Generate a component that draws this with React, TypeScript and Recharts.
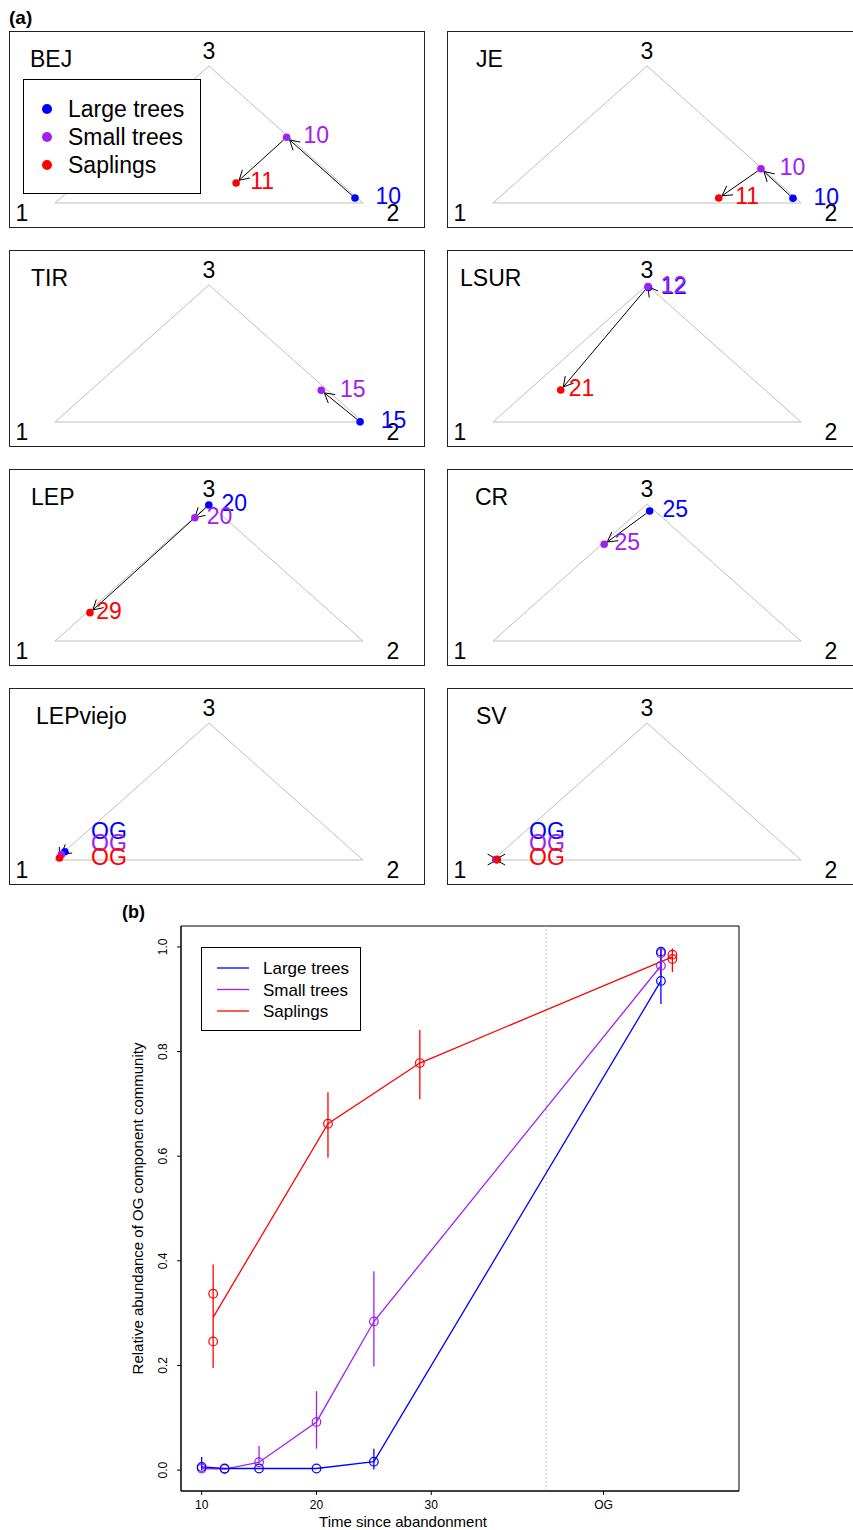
import React from "react";
import {
  ScatterChart,
  Scatter,
  XAxis,
  YAxis,
  ReferenceLine,
  ReferenceDot,
  ReferenceArea,
  ErrorBar,
  Legend,
  Label,
} from "recharts";

const FONT = '"Liberation Sans", Arial, Helvetica, sans-serif';

const layerNames = ["Large trees", "Small trees", "Saplings"];
const layerColors = ["#0000FF", "#A020F0", "#FF0000"];

// ---------- (a) ternary panels ----------
// composition of each layer: [share of type 1, share of type 2, share of type 3]
const siteNames = ["BEJ", "JE", "TIR", "LSUR", "LEP", "CR", "LEPviejo", "SV"];

const largeComp = [
  [0.008, 0.956, 0.036],
  [0.009, 0.957, 0.034],
  [0.009, 0.99, 0.001],
  [0.004, 0.014, 0.982],
  [0.004, 0.003, 0.993],
  [0.017, 0.034, 0.949],
  [0.938, 0.002, 0.06],
  [0.985, 0.012, 0.003],
];
const smallComp = [
  [0.008, 0.512, 0.48],
  [0.005, 0.745, 0.25],
  [0.02, 0.749, 0.231],
  [0.003, 0.009, 0.988],
  [0.096, 0.004, 0.9],
  [0.286, 0.008, 0.706],
  [0.96, 0.001, 0.039],
  [0.99, 0.007, 0.003],
];
const saplingComp = [
  [0.339, 0.515, 0.146],
  [0.249, 0.715, 0.036],
  null,
  [0.663, 0.103, 0.234],
  [0.783, 0.01, 0.207],
  null,
  [0.978, 0.007, 0.015],
  [0.985, 0.012, 0.003],
];

const largeAge = ["10", "10", "15", "12", "20", "25", "OG", "OG"];
const smallAge = ["10", "10", "15", "12", "20", "25", "OG", "OG"];
const saplingAge = ["11", "11", "", "21", "29", "", "OG", "OG"];

const layerComps = [largeComp, smallComp, saplingComp];
const layerAges = [largeAge, smallAge, saplingAge];

// ---------- (b) relative abundance over time ----------
const largeSiteX = [10, 12, 15, 20, 25, 50, 50];
const largeSiteY = [0.006, 0.003, 0.003, 0.003, 0.016, 0.991, 0.935];
const smallSiteX = [10, 12, 15, 20, 25, 50, 50];
const smallSiteY = [0.003, 0.002, 0.015, 0.092, 0.284, 0.988, 0.964];
const saplingSiteX = [11, 11, 21, 29, 51, 51];
const saplingSiteY = [0.337, 0.246, 0.662, 0.778, 0.985, 0.977];

const largeMeanX = [10, 12, 15, 20, 25, 50];
const largeMeanY = [0.006, 0.003, 0.003, 0.003, 0.016, 0.935];
const largeErrLow = [0.006, 0, 0, 0, 0.015, 0.044];
const largeErrHigh = [0.019, 0, 0, 0, 0.025, 0.063];

const smallMeanX = [10, 12, 15, 20, 25, 50];
const smallMeanY = [0.003, 0.002, 0.015, 0.092, 0.284, 0.964];
const smallErrLow = [0, 0, 0.002, 0.051, 0.086, 0.02];
const smallErrHigh = [0, 0, 0.031, 0.059, 0.096, 0.03];

const saplingMeanX = [11, 21, 29, 51];
const saplingMeanY = [0.292, 0.662, 0.778, 0.981];
const saplingErrLow = [0.097, 0.065, 0.069, 0.029];
const saplingErrHigh = [0.101, 0.06, 0.063, 0.016];

const xTicks = [10, 20, 30, 45];
const yTicks = [0, 0.2, 0.4, 0.6, 0.8, 1.0];

const siteX = [largeSiteX, smallSiteX, saplingSiteX];
const siteY = [largeSiteY, smallSiteY, saplingSiteY];
const meanX = [largeMeanX, smallMeanX, saplingMeanX];
const meanY = [largeMeanY, smallMeanY, saplingMeanY];
const errLow = [largeErrLow, smallErrLow, saplingErrLow];
const errHigh = [largeErrHigh, smallErrHigh, saplingErrHigh];

// ---------- ternary helpers ----------
const BOX_W = 416;
const BOX_H = 197;
const TMARGIN = { top: 35, right: 62, bottom: 25, left: 46 };
const titleX = [21, 29, 22, 13, 22, 28, 27, 29];
const OG_LABEL_DY = [-29, -17, -3];

function toXY(c: number[]) {
  const s = c[0] + c[1] + c[2];
  return { x: (c[1] + c[2] / 2) / s, y: c[2] / s };
}

const edges = [
  [{ x: 0, y: 0 }, { x: 1, y: 0 }],
  [{ x: 1, y: 0 }, { x: 0.5, y: 1 }],
  [{ x: 0.5, y: 1 }, { x: 0, y: 0 }],
];

const vertexLabels = [
  { x: 0, y: 0, text: "1", dx: -33, dy: 10 },
  { x: 1, y: 0, text: "2", dx: 30, dy: 10 },
  { x: 0.5, y: 1, text: "3", dx: 0, dy: -15 },
];

const arrowShape = (props: any) => {
  const { x1, y1, x2, y2 } = props;
  const dx = x2 - x1;
  const dy = y2 - y1;
  const len = Math.hypot(dx, dy) || 1e-6;
  const ux = dx / len;
  const uy = dy / len;
  const trim = len > 20 ? 4 : 0;
  const sx = x1 + ux * trim;
  const sy = y1 + uy * trim;
  const ex = x2 - ux * trim;
  const ey = y2 - uy * trim;
  const head = 11;
  const spread = Math.PI / 6;
  const ang = Math.atan2(uy, ux);
  const hx1 = ex - head * Math.cos(ang - spread);
  const hy1 = ey - head * Math.sin(ang - spread);
  const hx2 = ex - head * Math.cos(ang + spread);
  const hy2 = ey - head * Math.sin(ang + spread);
  return (
    <g>
      <line x1={sx} y1={sy} x2={ex} y2={ey} stroke="#000" strokeWidth={1} />
      <polyline
        points={`${hx1},${hy1} ${ex},${ey} ${hx2},${hy2}`}
        fill="none"
        stroke="#000"
        strokeWidth={1}
      />
    </g>
  );
};

const TernaryLegend = () => (
  <svg width={178} height={115} style={{ display: "block" }}>
    <rect x={0.5} y={0.5} width={177} height={114} fill="#fff" stroke="#000" />
    {layerNames.map((n, i) => (
      <g key={n}>
        <circle cx={24} cy={30 + 28 * i} r={5} fill={layerColors[i]} />
        <text x={45} y={30 + 28 * i + 8.2} fontSize={23} fontFamily={FONT} fill="#000">
          {n}
        </text>
      </g>
    ))}
  </svg>
);

function TernaryPanel({ index, left, top }: { index: number; left: number; top: number }) {
  const pts = layerComps.map((arr) => (arr[index] ? toXY(arr[index] as number[]) : null));
  const ages = layerAges.map((a) => a[index]);
  const isOG = ages[0] === "OG";
  const arrows: { x: number; y: number }[][] = [];
  if (pts[0] && pts[1]) arrows.push([pts[0], pts[1]]);
  if (pts[1] && pts[2]) arrows.push([pts[1], pts[2]]);

  return (
    <div style={{ position: "absolute", left, top, width: BOX_W, height: BOX_H }}>
      <ScatterChart width={BOX_W} height={BOX_H} margin={TMARGIN}>
        <XAxis type="number" dataKey="x" domain={[0, 1]} hide />
        <YAxis type="number" dataKey="y" domain={[0, 1]} hide />
        {edges.map((seg, k) => (
          <ReferenceLine
            key={`e${k}`}
            segment={seg}
            stroke="#BEBEBE"
            strokeWidth={1}
            ifOverflow="visible"
          />
        ))}
        {vertexLabels.map((v) => (
          <ReferenceDot
            key={v.text}
            x={v.x}
            y={v.y}
            r={0}
            ifOverflow="visible"
            shape={(p: any) => (
              <text
                x={p.cx + v.dx}
                y={p.cy + v.dy + 8.2}
                textAnchor="middle"
                fontSize={23}
                fontFamily={FONT}
                fill="#000"
              >
                {v.text}
              </text>
            )}
          />
        ))}
        {pts.map((p, k) =>
          p ? (
            <Scatter
              key={`d${k}`}
              name={layerNames[k]}
              data={[p]}
              isAnimationActive={false}
              legendType="none"
              shape={(s: any) => <circle cx={s.cx} cy={s.cy} r={3.8} fill={layerColors[k]} />}
            />
          ) : null
        )}
        {arrows.map((seg, k) => (
          <ReferenceLine key={`a${k}`} segment={seg} ifOverflow="visible" shape={arrowShape} />
        ))}
        {!isOG &&
          pts.map((p, k) =>
            p ? (
              <Scatter
                key={`l${k}`}
                data={[p]}
                isAnimationActive={false}
                legendType="none"
                shape={(s: any) => (
                  <text
                    x={s.cx + 4.4 + 16.5 * p.x}
                    y={s.cy + 6.2}
                    fontSize={23}
                    fontFamily={FONT}
                    fill={layerColors[k]}
                  >
                    {ages[k]}
                  </text>
                )}
              />
            ) : null
          )}
        {isOG &&
          pts.map((p, k) =>
            p ? (
              <ReferenceDot
                key={`og${k}`}
                x={0}
                y={0}
                r={0}
                ifOverflow="visible"
                shape={(s: any) => (
                  <text
                    x={s.cx + 36}
                    y={s.cy + OG_LABEL_DY[k] + 8.2}
                    fontSize={23}
                    fontFamily={FONT}
                    fill={layerColors[k]}
                  >
                    {ages[k]}
                  </text>
                )}
              />
            ) : null
          )}
        {index === 0 && (
          <Legend
            layout="vertical"
            align="center"
            verticalAlign="middle"
            content={() => <TernaryLegend />}
            wrapperStyle={{ left: 14, top: 48, width: 178, height: 115 }}
          />
        )}
      </ScatterChart>
      <svg
        width={BOX_W}
        height={BOX_H}
        style={{ position: "absolute", left: 0, top: 0, pointerEvents: "none" }}
      >
        <rect x={0.5} y={0.5} width={BOX_W - 1} height={BOX_H - 1} fill="none" stroke="#222" />
        <text x={titleX[index]} y={36.2} fontSize={23} fontFamily={FONT} fill="#000">
          {siteNames[index]}
        </text>
      </svg>
    </div>
  );
}

// ---------- (b) chart ----------
const YTick = (props: any) => {
  const { x, y, payload } = props;
  return (
    <g transform={`translate(${x - 12},${y}) rotate(-90)`}>
      <text textAnchor="middle" dy="0.36em" fontSize={12} fontFamily={FONT} fill="#000">
        {Number(payload.value).toFixed(1)}
      </text>
    </g>
  );
};

const OgLegend = () => (
  <svg width={160} height={84} style={{ display: "block" }}>
    <rect x={0.5} y={0.5} width={159} height={83} fill="#fff" stroke="#000" />
    {layerNames.map((n, i) => (
      <g key={n}>
        <line
          x1={16}
          x2={48}
          y1={21 + 21.5 * i}
          y2={21 + 21.5 * i}
          stroke={layerColors[i]}
          strokeWidth={1.3}
        />
        <text x={62} y={21 + 21.5 * i + 6.1} fontSize={17} fontFamily={FONT} fill="#000">
          {n}
        </text>
      </g>
    ))}
  </svg>
);

function OgChart() {
  const order = [2, 1, 0];
  return (
    <div style={{ position: "absolute", left: 100, top: 900 }}>
      <ScatterChart width={660} height={629} margin={{ top: 26, right: 21, bottom: 0, left: 41 }}>
        <XAxis
          type="number"
          dataKey="x"
          domain={[8.2, 56.8]}
          allowDataOverflow
          ticks={xTicks}
          tickFormatter={(v: number) => (v === 45 ? "OG" : String(v))}
          height={38}
          tickSize={4}
          tickMargin={5}
          stroke="#000"
          tick={{ fontSize: 12, fill: "#000", fontFamily: FONT }}
        >
          <Label
            content={() => (
              <text x={303} y={627} textAnchor="middle" fontSize={15} fontFamily={FONT} fill="#000">
                Time since abandonment
              </text>
            )}
          />
        </XAxis>
        <YAxis
          type="number"
          dataKey="y"
          domain={[-0.04, 1.04]}
          allowDataOverflow
          ticks={yTicks}
          width={40}
          tickSize={4}
          tickMargin={2}
          stroke="#000"
          tick={<YTick />}
        >
          <Label
            content={() => (
              <g transform="translate(38,308.5) rotate(-90)">
                <text textAnchor="middle" dy="0.36em" fontSize={15} fontFamily={FONT} fill="#000">
                  Relative abundance of OG component community
                </text>
              </g>
            )}
          />
        </YAxis>
        <ReferenceLine x={40} stroke="#C0C0C0" strokeDasharray="2 2" />
        <ReferenceArea
          x1={8.2}
          x2={56.8}
          y1={-0.04}
          y2={1.04}
          fill="none"
          fillOpacity={0}
          stroke="#000"
          ifOverflow="visible"
        />
        {order.map((k) => (
          <Scatter
            key={`m${k}`}
            name={layerNames[k]}
            data={meanX[k].map((x, i) => ({
              x,
              y: meanY[k][i],
              err: [errLow[k][i], errHigh[k][i]],
            }))}
            line={{ stroke: layerColors[k], strokeWidth: 1.3 }}
            lineType="joint"
            isAnimationActive={false}
            shape={() => <g />}
          >
            <ErrorBar
              dataKey="err"
              direction="y"
              width={0}
              stroke={layerColors[k]}
              strokeWidth={1.3}
              isAnimationActive={false}
            />
          </Scatter>
        ))}
        {order.map((k) => (
          <Scatter
            key={`s${k}`}
            data={siteX[k].map((x, i) => ({ x, y: siteY[k][i] }))}
            isAnimationActive={false}
            legendType="none"
            shape={(s: any) => (
              <circle cx={s.cx} cy={s.cy} r={4.3} fill="none" stroke={layerColors[k]} strokeWidth={1.2} />
            )}
          />
        ))}
        <Legend
          layout="vertical"
          align="center"
          verticalAlign="middle"
          content={() => <OgLegend />}
          wrapperStyle={{ left: 101, top: 47, width: 160, height: 84 }}
        />
      </ScatterChart>
    </div>
  );
}

export default function App() {
  return (
    <div
      style={{
        position: "absolute",
        left: 0,
        top: 0,
        width: 853,
        height: 1530,
        overflow: "hidden",
        background: "#fff",
        fontFamily: FONT,
      }}
    >
      <svg width={853} height={1530} style={{ position: "absolute", left: 0, top: 0 }}>
        <text x={9} y={23.5} fontSize={19} fontWeight="bold" fontFamily={FONT} fill="#000">
          (a)
        </text>
        <text x={122} y={917.5} fontSize={18} fontWeight="bold" fontFamily={FONT} fill="#000">
          (b)
        </text>
      </svg>
      {siteNames.map((n, i) => (
        <TernaryPanel key={n} index={i} left={i % 2 === 0 ? 9 : 447} top={31 + 219 * Math.floor(i / 2)} />
      ))}
      <OgChart />
    </div>
  );
}
